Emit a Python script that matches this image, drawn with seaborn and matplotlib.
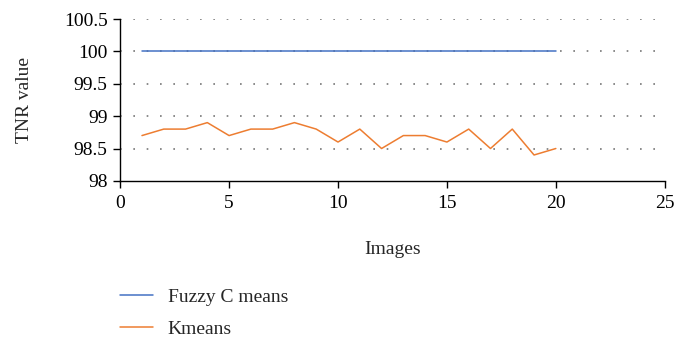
import pandas as pd
import matplotlib
matplotlib.use("Agg")
import matplotlib.pyplot as plt
import matplotlib.ticker as mticker
import seaborn as sns

sns.set_theme(style="ticks")
plt.rcParams['font.family'] = ['Liberation Serif', 'DejaVu Serif']

# data
images = list(range(1, 21))
fuzzy_c_means = [100] * 20
kmeans = [98.7, 98.8, 98.8, 98.9, 98.7, 98.8, 98.8, 98.9, 98.8, 98.6,
          98.8, 98.5, 98.7, 98.7, 98.6, 98.8, 98.5, 98.8, 98.4, 98.5]
series_names = ["Fuzzy C means", "Kmeans"]
colors = ["#4472C4", "#ED7D31"]

df = pd.DataFrame({
    "Images": images * 2,
    "TNR": fuzzy_c_means + kmeans,
    "Method": [series_names[0]] * 20 + [series_names[1]] * 20,
})

fig = plt.figure(figsize=(6.79, 3.40), dpi=100)
ax = fig.add_axes([0.177, 0.468, 0.802, 0.476])

sns.lineplot(data=df, x="Images", y="TNR", hue="Method", palette=colors,
             linewidth=1.1, ax=ax, legend=True)

ax.set_xlim(0, 25)
ax.set_ylim(98, 100.5)
ax.set_xticks([0, 5, 10, 15, 20, 25])
ax.set_yticks([98, 98.5, 99, 99.5, 100, 100.5])
ax.yaxis.set_major_formatter(mticker.FormatStrFormatter('%g'))

# dotted horizontal grid
for v in [98.5, 99, 99.5, 100, 100.5]:
    ax.axhline(v, color="#777777", linewidth=1.2, linestyle=(0, (1.0, 7.0)),
               zorder=0)

for s in ["top", "right"]:
    ax.spines[s].set_visible(False)
for s in ["left", "bottom"]:
    ax.spines[s].set_color("black")
    ax.spines[s].set_linewidth(1.0)
ax.tick_params(axis="both", colors="black", labelsize=14, length=5, width=1)
ax.tick_params(axis="x", pad=5)
ax.tick_params(axis="y", pad=4)

ax.set_xlabel("Images", fontsize=14, labelpad=21)
ax.set_ylabel("TNR value", fontsize=14, labelpad=22)

handles, labels = ax.get_legend_handles_labels()
ax.legend(handles, labels, loc="upper left", bbox_to_anchor=(0.177, 0.152),
          bbox_transform=fig.transFigure, frameon=False, fontsize=14,
          labelspacing=0.75, handlelength=1.7, handletextpad=0.75,
          borderpad=0, borderaxespad=0)

fig.savefig("out.png", dpi=100)
